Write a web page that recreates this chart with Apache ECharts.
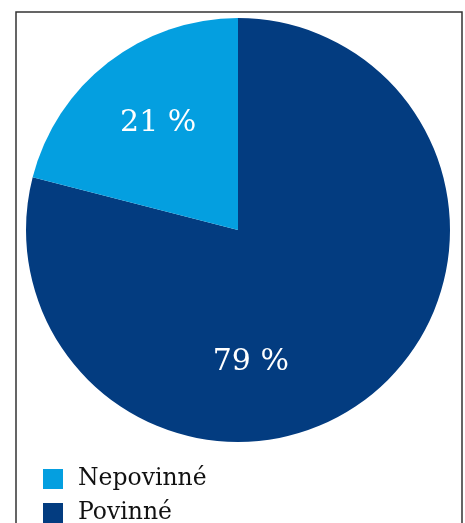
<!DOCTYPE html>
<html><head><meta charset="utf-8">
<script src="https://cdn.jsdelivr.net/npm/echarts@6/dist/echarts.min.js"></script>
<style>html,body{margin:0;padding:0;background:#fff}#c{width:465px;height:523px}</style>
</head><body><div id="c"></div>
<script>
const categories = ['Povinné', 'Nepovinné'];
const values = [79, 21];
const colors = ['#033c80', '#049fe0'];
const legendOrder = ['Nepovinné', 'Povinné'];
const labelOffsets = [[-54, 46], [-13, -21]];

const chart = echarts.init(document.getElementById('c'));
chart.setOption({
  animation: false,
  graphic: [{
    type: 'rect', shape: {x: 16, y: 12, width: 446, height: 540},
    style: {fill: 'none', stroke: '#333', lineWidth: 1.5}, silent: true
  }],
  legend: {
    data: legendOrder, orient: 'vertical', left: 43, top: 467, padding: 0,
    height: 60,
    icon: 'rect', itemWidth: 20, itemHeight: 20, itemGap: 10,
    textStyle: {fontFamily: 'DejaVu Serif', fontSize: 23.5, color: '#111', padding: [0,0,0,10]}
  },
  series: [{
    type: 'pie', center: [238, 230], radius: 212, startAngle: 90, clockwise: true,
    label: {show: true, position: 'inside', color: '#fff', fontFamily: 'DejaVu Serif', fontSize: 30,
      formatter: p => p.value + ' %'},
    labelLine: {show: false},
    emphasis: {disabled: true},
    data: categories.map((n, i) => ({name: n, value: values[i], itemStyle: {color: colors[i]},
      label: {offset: labelOffsets[i]}}))
  }]
});
</script></body></html>
